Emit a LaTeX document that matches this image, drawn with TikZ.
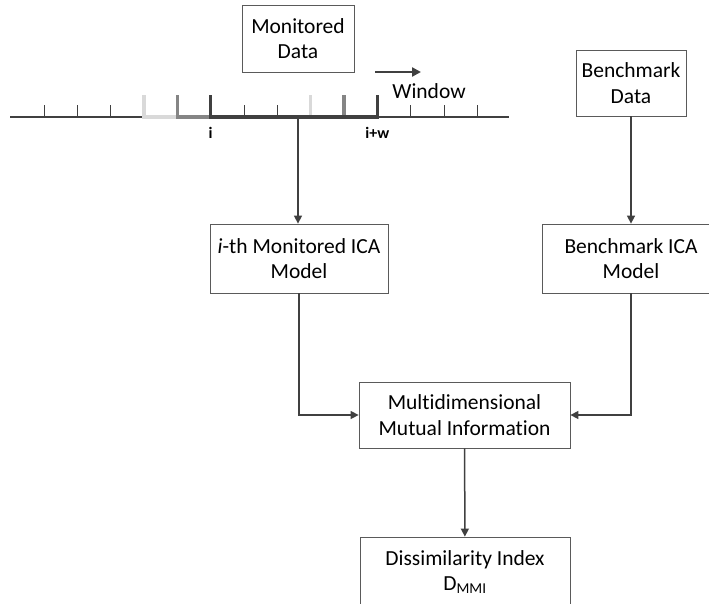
\documentclass[tikz,border=0pt]{standalone}
\usepackage{fontspec}
\setmainfont{Carlito}[Ligatures=NoCommon]
\usetikzlibrary{arrows.meta}

\definecolor{linegray}{HTML}{404040}
\definecolor{boxgray}{HTML}{5A5A5A}
\definecolor{midgray}{HTML}{858585}
\definecolor{lightgray}{HTML}{D9D9D9}

\begin{document}
\begin{tikzpicture}[x=1pt, y=-1pt,
    box/.style={draw=boxgray, line width=0.8pt, align=center, inner sep=0pt,
      font=\fontsize{21.5}{25.5}\selectfont},
    flow/.style={draw=linegray, line width=1.5pt, -{Triangle[length=8pt,width=8pt]}},
    tick/.style={draw=linegray, line width=0.8pt},
    bracket/.style={line width=3.2pt, line cap=butt},
    idx/.style={font=\fontsize{16}{18}\selectfont\bfseries}]
    \useasboundingbox (0,0) rectangle (709,603);
    \clip (0,0) rectangle (709,603);

    % boxes
    \node[box, minimum width=112pt, minimum height=67pt] (mondata) at (298,38.5) {Monitored\\Data};
    \node[box, minimum width=110pt, minimum height=66pt] (benchdata) at (631,83) {Benchmark\\Data};
    \node[box, minimum width=178pt, minimum height=69pt] (monica) at (299,258.5) {\textit{i}-th Monitored ICA\\Model};
    \node[box, minimum width=178pt, minimum height=69pt] (benchica) at (631,258.5) {Benchmark ICA\\Model};
    \node[box, minimum width=211pt, minimum height=66pt] (mmi) at (464.5,415) {Multidimensional\\Mutual Information};
    \node[box, minimum width=210pt, minimum height=70pt] (dmmi) at (465,572) {Dissimilarity Index\\D\textsubscript{MMI}};

    % time axis
    \draw[linegray, line width=1.2pt] (10,117) -- (509,117);
    \draw[tick] (44,105) -- (44,117);
    \draw[tick] (77.3,105) -- (77.3,117);
    \draw[tick] (110.7,105) -- (110.7,117);
    \draw[tick] (244,105) -- (244,117);
    \draw[tick] (277.3,105) -- (277.3,117);
    \draw[tick] (410.7,105) -- (410.7,117);
    \draw[tick] (444,105) -- (444,117);
    \draw[tick] (477.3,105) -- (477.3,117);

    % sliding windows
    \draw[bracket, lightgray] (144,95) -- (144,117) -- (310.7,117) -- (310.7,95);
    \draw[bracket, midgray] (177.3,95) -- (177.3,117) -- (344,117) -- (344,95);
    \draw[bracket, linegray] (210.7,95) -- (210.7,117) -- (377.3,117) -- (377.3,95);
    \node[idx] (ilab) at (210.7,133) {i};
    \node[idx] (iwlab) at (377.3,133) {i+w};

    \coordinate (wstart) at (375,72);
    \coordinate (wend) at (421,72);
    \draw[linegray, line width=2.6pt, -{Triangle[length=9pt,width=9pt]}] (wstart) -- (wend);
    \node[font=\fontsize{21.5}{25.5}\selectfont] (window) at (429,91) {Window};

    % connectors
    \coordinate (win) at (298,117);
    \draw[flow] (win) -- (win |- monica.north);
    \draw[flow] (benchdata) -- (benchica);
    \draw[flow] (monica.south) |- (mmi.west);
    \draw[flow] (benchica.south) |- (mmi.east);
    \draw[flow] (mmi) -- (dmmi);
\end{tikzpicture}
\end{document}
